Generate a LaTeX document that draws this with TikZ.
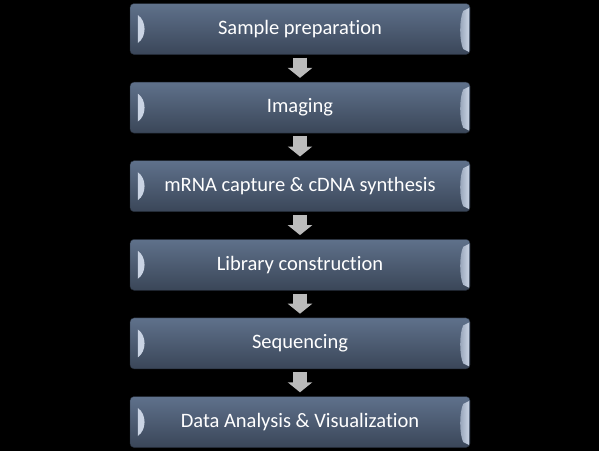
\documentclass[tikz,border=0pt]{standalone}
\usepackage{fontspec}
\setmainfont[Ligatures=NoCommon]{Carlito}
\usetikzlibrary{arrows.meta}

\definecolor{stepTop}{HTML}{5F718B}
\definecolor{stepBot}{HTML}{3A4658}
\definecolor{bevel}{HTML}{CAD4E4}
\definecolor{arrowgray}{HTML}{BBBBBB}

\begin{document}
\begin{tikzpicture}[x=1pt, y=1pt,
  stepbox/.style={rounded corners=4pt, minimum width=340pt, minimum height=51pt,
    inner sep=0pt, top color=stepTop, bottom color=stepBot, draw=stepBot!60!black,
    text=white, font=\fontsize{20.5}{23}\selectfont},
  flowarrow/.style={draw=arrowgray, line width=14pt,
    -{Triangle[width=24pt, length=10pt]}, shorten <=3pt, shorten >=4pt}]
  \useasboundingbox (0,0) rectangle (599,-451);
  \fill[black] (0,0) rectangle (599,-451);

  \node[stepbox] (prep) at (300,-29) {Sample preparation};
  \node[stepbox] (imaging) at (300,-107.6) {Imaging};
  \node[stepbox] (capture) at (300,-186.2) {mRNA capture \& cDNA synthesis};
  \node[stepbox] (library) at (300,-264.8) {Library construction};
  \node[stepbox] (seq) at (300,-343.4) {Sequencing};
  \node[stepbox] (analysis) at (300,-422) {Data Analysis \& Visualization};

  % bevel highlights
  \foreach \n in {prep,imaging,capture,library,seq,analysis} {
    \fill[bevel] ([shift={(8pt,14pt)}]\n.west) .. controls +(9pt,-6pt) and +(9pt,6pt) .. ([shift={(8pt,-14pt)}]\n.west) -- cycle;
    \shade[left color=stepTop!50!bevel, right color=bevel] ([shift={(-1pt,21pt)}]\n.east) -- ([shift={(-1pt,-23pt)}]\n.east)
      -- ([shift={(-7pt,-20pt)}]\n.east) .. controls +(-4pt,8pt) and +(-4pt,-8pt) .. ([shift={(-7pt,18pt)}]\n.east) -- cycle;
  }

  \foreach \a/\b in {prep/imaging,imaging/capture,capture/library,library/seq,seq/analysis}
    \draw[flowarrow] (\a) -- (\b);
\end{tikzpicture}
\end{document}
